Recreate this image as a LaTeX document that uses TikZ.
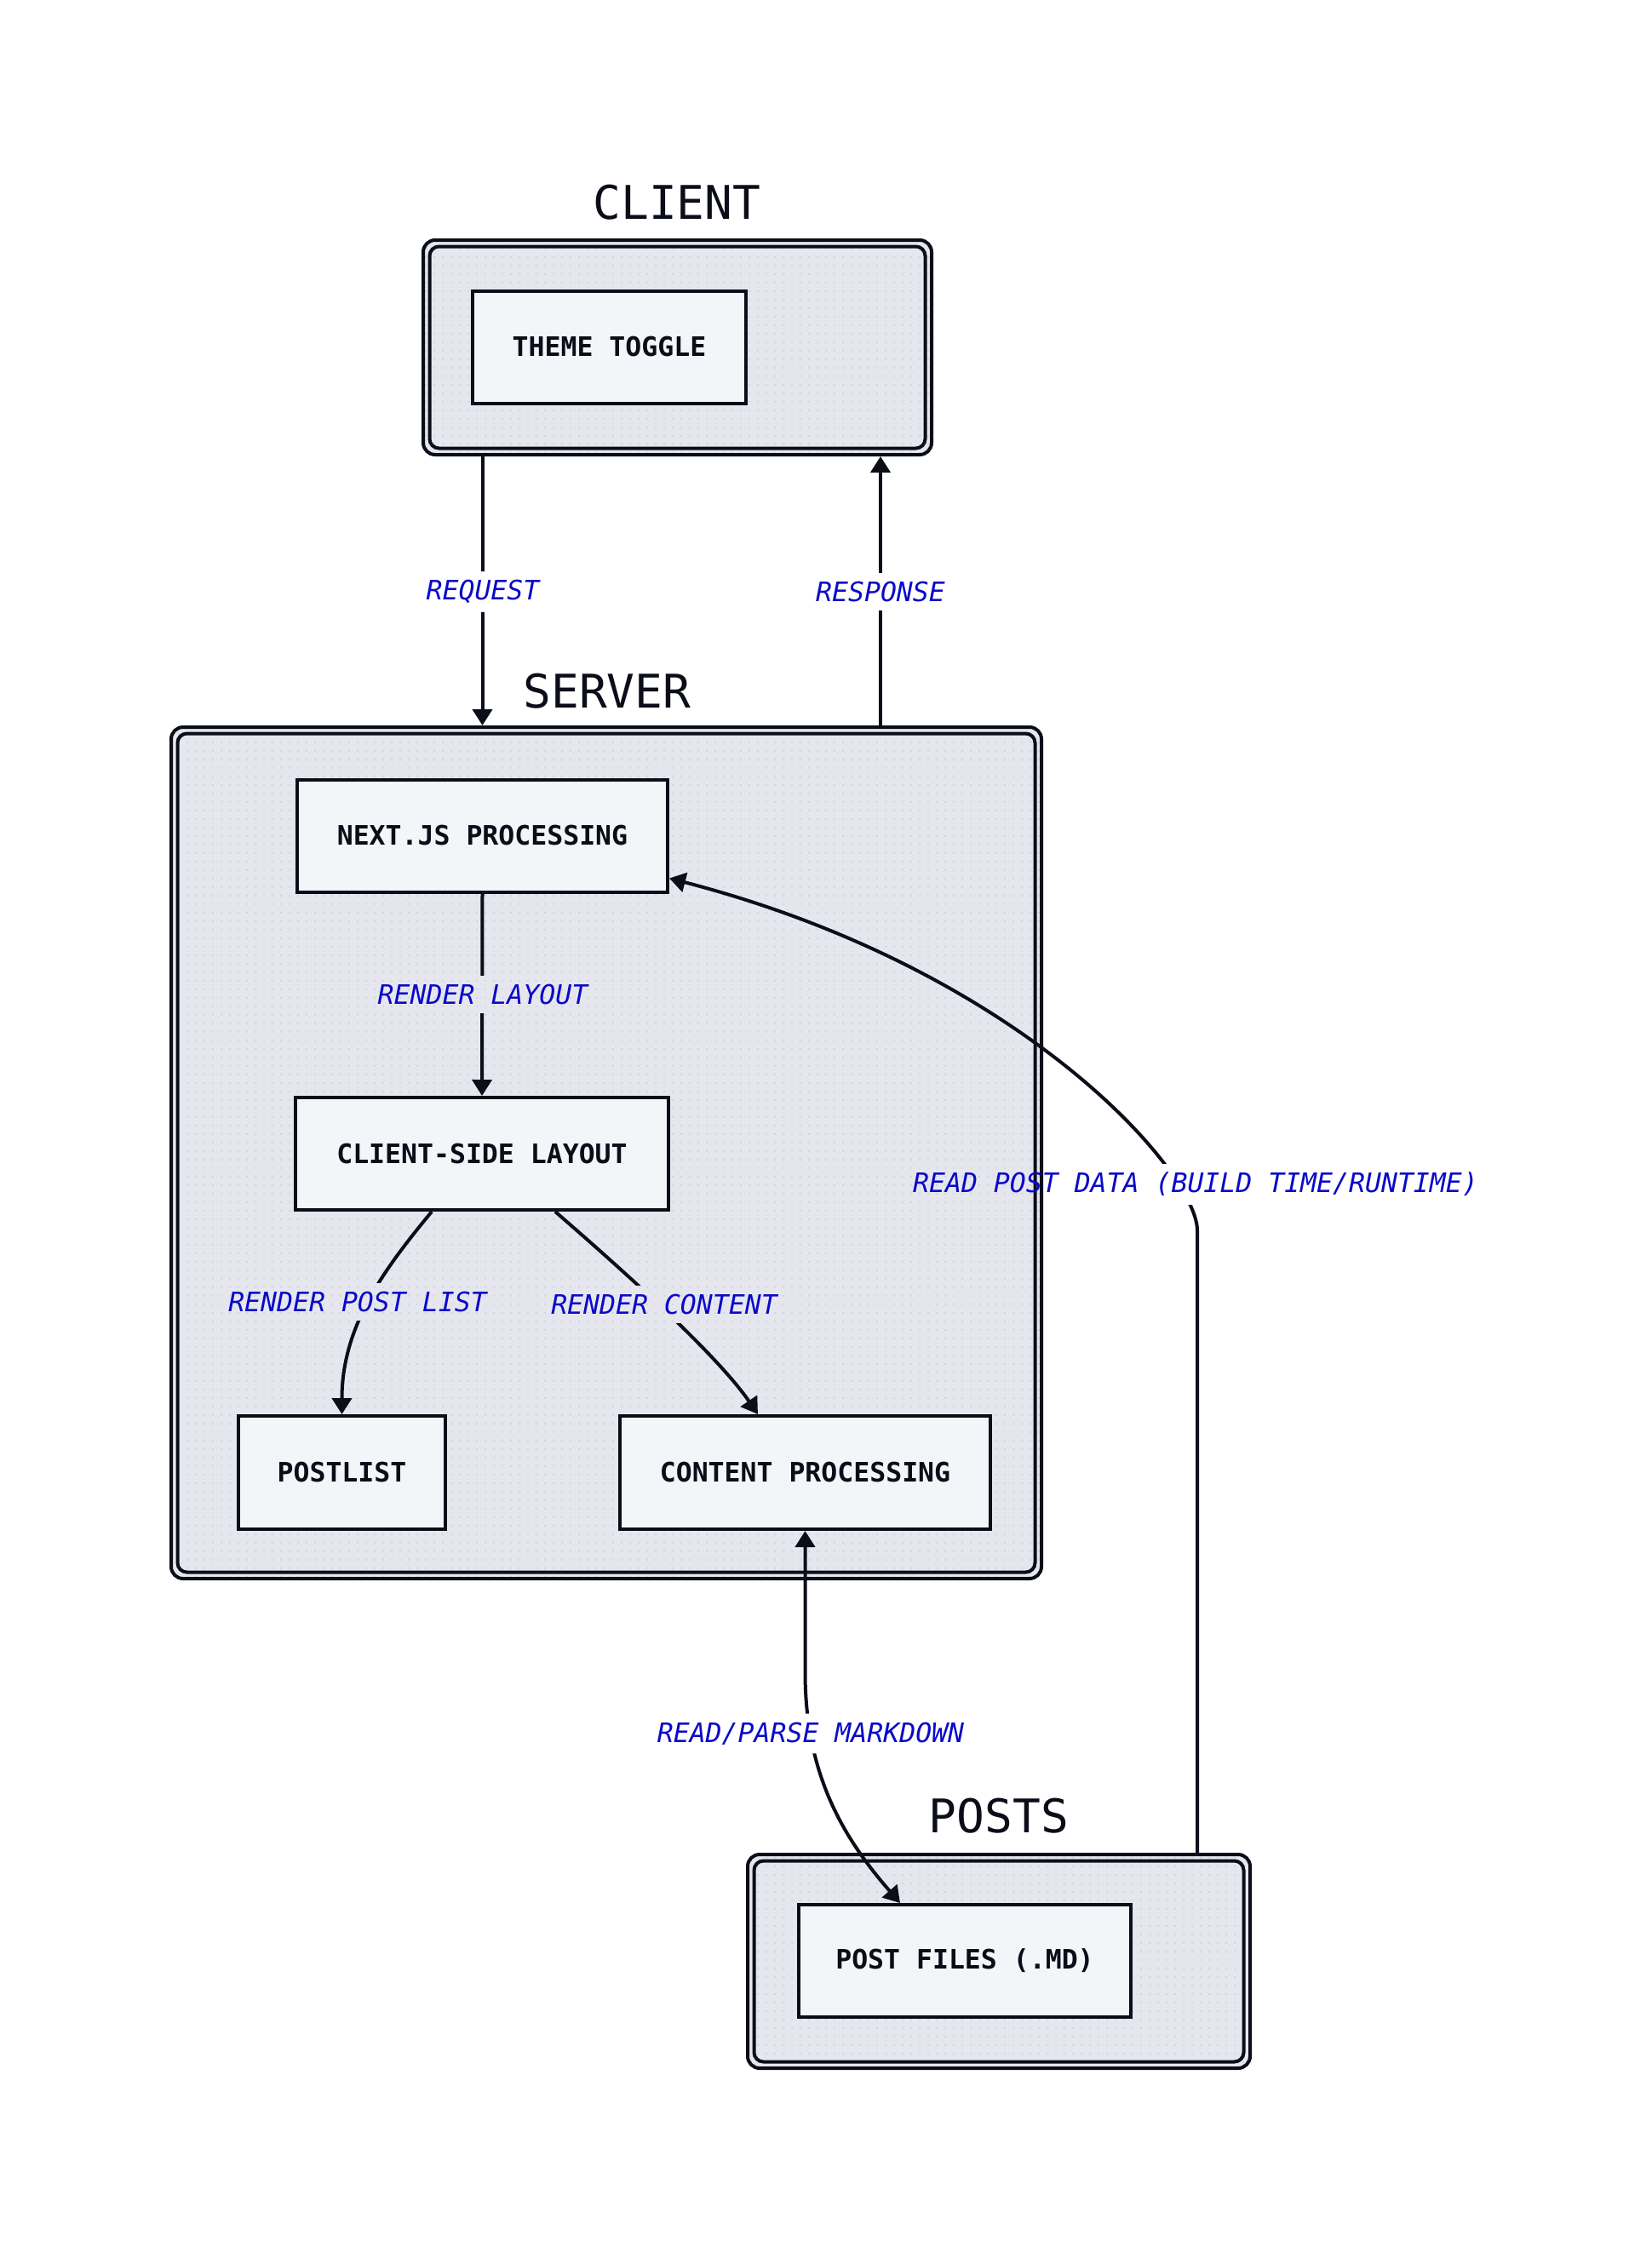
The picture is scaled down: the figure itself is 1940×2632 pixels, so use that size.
\documentclass[tikz,border=0pt]{standalone}
\usepackage{fontspec}
\newfontfamily\diagmono{DejaVu Sans Mono}
\usetikzlibrary{arrows.meta,patterns.meta}

\definecolor{ink}{HTML}{0B0E19}
\definecolor{clusterbg}{HTML}{E6E7EE}
\definecolor{dotgray}{HTML}{CBCDD5}
\definecolor{nodebg}{HTML}{F4F5F9}
\definecolor{labelblue}{HTML}{0A0AC8}

\tikzset{
  cluster/.style={draw=ink, line width=4pt, rounded corners=14pt, inner sep=0pt,
    preaction={fill=clusterbg},
    pattern={Dots[radius=1pt,distance=10pt]}, pattern color=dotgray},
  clusterinner/.style={draw=ink, line width=4pt, rounded corners=11pt},
  box/.style={draw=ink, line width=4pt, fill=nodebg, minimum height=132pt, inner sep=0pt,
    font=\diagmono\bfseries\fontsize{31.5}{36}\selectfont, text=ink},
  title/.style={font=\diagmono\fontsize{54.5}{62}\selectfont, text=ink, inner sep=0pt},
  elabel/.style={font=\diagmono\itshape\fontsize{31.5}{36}\selectfont, text=labelblue,
    inner xsep=4pt, inner ysep=10pt},
  conn/.style={draw=ink, line width=4pt},
  arr/.style={-{Triangle[length=19pt,width=23pt]}},
  biarr/.style={{Triangle[length=19pt,width=23pt]}-{Triangle[length=19pt,width=23pt]}},
}

\begin{document}
\begin{tikzpicture}[x=1pt,y=-1pt]
\useasboundingbox (0,0) rectangle (1940,2632);

% clusters
\node[cluster, minimum width=597pt, minimum height=252pt] (client) at (795.5,408) {};
\draw[clusterinner] ([shift={(9.5,9.5)}]client.north west) rectangle ([shift={(-9.5,-9.5)}]client.south east);
\node[title] (clienttitle) at (795,238) {CLIENT};

\node[cluster, minimum width=1022pt, minimum height=1000pt] (server) at (712,1354) {};
\draw[clusterinner] ([shift={(9.5,9.5)}]server.north west) rectangle ([shift={(-9.5,-9.5)}]server.south east);
\node[title] (servertitle) at (713,812) {SERVER};

\node[cluster, minimum width=590pt, minimum height=251pt] (posts) at (1173,2303.5) {};
\draw[clusterinner] ([shift={(9.5,9.5)}]posts.north west) rectangle ([shift={(-9.5,-9.5)}]posts.south east);
\node[title] (poststitle) at (1173,2133) {POSTS};

% process boxes
\node[box, minimum width=321pt] (theme) at (715.5,407.5) {THEME TOGGLE};
\node[box, minimum width=435pt] (nextjs) at (566.5,981.5) {NEXT.JS PROCESSING};
\node[box, minimum width=438pt] (csl) at (566,1355) {CLIENT-SIDE LAYOUT};
\node[box, minimum width=243pt, minimum height=133pt] (postlist) at (401.5,1729.5) {POSTLIST};
\node[box, minimum width=435pt, minimum height=133pt] (content) at (945.5,1729.5) {CONTENT PROCESSING};
\node[box, minimum width=390pt] (postfiles) at (1133,2303) {POST FILES (.MD)};

% edge labels
\node[elabel] (lreq) at (567,695) {REQUEST};
\node[elabel] (lresp) at (1034,695) {RESPONSE};
\node[elabel] (llayout) at (567,1168) {RENDER LAYOUT};
\node[elabel] (lplist) at (420,1529) {RENDER POST LIST};
\node[elabel] (lcontent) at (780,1532) {RENDER CONTENT};
\node[elabel] (lread) at (1404,1391) {READ POST DATA (BUILD TIME/RUNTIME)};
\node[elabel] (lparse) at (952,2036) {READ/PARSE MARKDOWN};

\coordinate (rspx) at (1034,0);
\coordinate (rpdx) at (1406,0);

% connectors, interrupted behind their labels
\begin{scope}
  \clip (0,0) rectangle (1940,2632)
    (lreq.south west) rectangle (lreq.north east)
    (lresp.south west) rectangle (lresp.north east)
    (llayout.south west) rectangle (llayout.north east)
    (lplist.south west) rectangle (lplist.north east)
    (lcontent.south west) rectangle (lcontent.north east)
    (lread.south west) rectangle (lread.north east)
    (lparse.south west) rectangle (lparse.north east);

  \draw[conn, arr] (client.south -| nextjs.south) -- (server.north -| nextjs.south);
  \draw[conn, arr] (server.north -| rspx) -- (client.south -| rspx);
  \draw[conn, arr] (nextjs.south) -- (csl.north);
  \draw[conn, arr] ([xshift=-59pt]csl.south) .. controls +(-57,69) and +(0,-103) .. (postlist.north);
  \draw[conn, arr] ([xshift=86pt]csl.south) .. controls +(68,59) and +(-50,-73) .. ([xshift=-55.5pt]content.north);
  \draw[conn, arr] (posts.north -| rpdx) -- ++(0,-731)
    .. controls +(0,-67) and +(416,108) .. ([yshift=-50pt]nextjs.east);
  \draw[conn, biarr] (content.south) -- ++(0,166)
    .. controls +(0,120) and +(-67,-77) .. ([xshift=-76pt]postfiles.north);
\end{scope}
\end{tikzpicture}
\end{document}
